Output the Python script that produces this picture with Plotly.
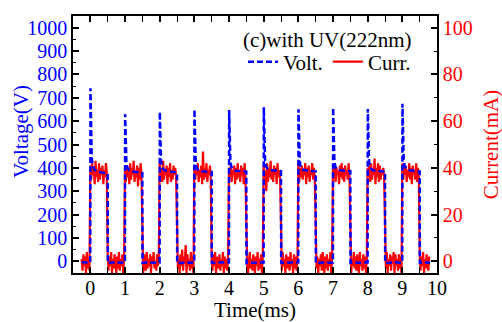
import numpy as np
import plotly.graph_objects as go

# ---- Current (mA), sampled every 0.025 ms starting at t = -0.25 ms ----
curr_t0 = -0.25
curr_dt = 0.025
curr_pre = [1, -4, 3, -2, 2, -5, 4, -3, 1, -4]

# discharge-on part of each pulse (t = n .. n+0.475)
curr_on = [
    [41, 35, 42, 37, 40, 33, 43, 36, 39, 34, 42, 35, 40, 37, 41, 33, 39, 36, 42, 38],
    [40, 34, 41, 36, 39, 33, 42, 35, 40, 37, 43, 34, 38, 36, 41, 32, 40, 35, 42, 37],
    [42, 36, 40, 34, 43, 35, 39, 37, 41, 33, 40, 36, 42, 34, 39, 35, 41, 37, 40, 36],
    [41, 35, 40, 37, 42, 34, 39, 36, 41, 33, 47, 35, 40, 36, 42, 34, 39, 37, 41, 35],
    [40, 36, 42, 34, 39, 37, 41, 33, 40, 35, 42, 36, 39, 34, 41, 37, 40, 33, 42, 36],
    [41, 35, 39, 30, 42, 34, 40, 36, 43, 35, 39, 34, 41, 37, 40, 33, 42, 36, 39, 35],
    [42, 34, 40, 36, 41, 35, 39, 37, 42, 33, 40, 36, 41, 34, 39, 37, 42, 35, 40, 36],
    [41, 35, 42, 34, 40, 37, 39, 33, 41, 36, 42, 35, 40, 34, 41, 37, 39, 35, 42, 36],
    [40, 36, 41, 34, 42, 35, 39, 37, 44, 33, 40, 36, 42, 34, 41, 35, 39, 37, 40, 36],
    [42, 35, 40, 37, 41, 34, 39, 36, 42, 35, 40, 33, 41, 37, 39, 35, 42, 34, 40, 36],
]

# discharge-off part of each pulse (t = n+0.5 .. n+0.975); last one ends at 9.775
curr_off = [
    [3, -4, 2, -2, 4, -5, 1, -3, 3, -1, -5, 2, -3, 4, -4, 1, -2, 3, -5, 2],
    [2, -5, 3, -1, -4, 4, -3, 1, -2, 3, -5, 2, -1, 4, -3, 0, -4, 3, -2, 1],
    [4, -3, 1, -5, 3, -2, 5, -4, 2, -1, 7, -5, 3, -2, 1, -4, 4, -3, 2, -5],
    [1, -4, 3, -2, 4, -5, 2, -1, -3, 3, -4, 1, -2, 4, -5, 2, -3, 1, -4, 3],
    [3, -2, -5, 2, 4, -3, 1, -4, 3, -1, -5, 2, -2, 4, -4, 1, -3, 3, -5, 2],
    [2, -4, 4, -2, 1, -5, 3, -3, 2, -1, -4, 4, -2, 1, -5, 3, -3, 2, -4, 1],
    [4, -3, 2, -5, 1, -2, 3, -4, 4, -1, -5, 2, -3, 3, -4, 1, -2, 4, -5, 2],
    [3, -5, 1, -2, 4, -3, 2, -4, 3, -1, -5, 4, -2, 1, -4, 3, -3, 2, -5, 1],
    [2, -3, 4, -5, 1, -2, 3, -4, 2, -1, 4, -5, 3, -2, 1, -4, 3, -3, 2, -5],
    [3, -4, 2, -2, 4, -5, 1, -3, 3, -1, -4, 2],
]

# ---- Voltage (V), sampled at fixed offsets inside each 1 ms period ----
volt_pre_t = [-0.25, -0.1, -0.002]
volt_pre = [-4, -6, -5]
on_offsets = [0.004, 0.04, 0.07, 0.12, 0.2, 0.3, 0.4, 0.5]
off_offsets = [0.505, 0.6, 0.7, 0.8, 0.9, 0.998]
volt_on = [
    [741, 445, 410, 392, 384, 380, 377, 375],
    [630, 425, 400, 390, 385, 382, 380, 378],
    [640, 430, 402, 392, 387, 384, 382, 380],
    [651, 427, 399, 390, 385, 385, 384, 383],
    [648, 430, 403, 392, 388, 386, 385, 384],
    [660, 432, 405, 395, 390, 388, 387, 386],
    [651, 428, 402, 393, 389, 387, 386, 385],
    [658, 430, 404, 394, 390, 388, 387, 386],
    [652, 428, 402, 393, 388, 386, 385, 384],
    [674, 433, 406, 395, 390, 388, 386, 385],
]
volt_off = [
    [-8, -5, -4, -6, -5, -5],
    [-7, -4, -6, -5, -4, -5],
    [-8, -6, -4, -5, -6, -5],
    [-7, -5, -5, -4, -6, -5],
    [-8, -4, -6, -5, -5, -5],
    [-7, -6, -4, -5, -4, -5],
    [-8, -5, -5, -6, -4, -5],
    [-7, -4, -6, -5, -5, -5],
    [-8, -6, -5, -4, -6, -5],
    [-7, -5, -4, -6],
]

# assemble the traces
current = list(curr_pre)
for on_seg, off_seg in zip(curr_on, curr_off):
    current += on_seg + off_seg
t_curr = curr_t0 + curr_dt * np.arange(len(current))

t_volt = list(volt_pre_t)
volt = list(volt_pre)
for n, (on_seg, off_seg) in enumerate(zip(volt_on, volt_off)):
    t_volt += [n + o for o in on_offsets[:len(on_seg)]]
    volt += on_seg
    t_volt += [n + o for o in off_offsets[:len(off_seg)]]
    volt += off_seg

FONT = "Liberation Serif, Times New Roman, Times, serif"
BLUE = "#0000ff"
RED = "#ff0000"

fig = go.Figure()
fig.add_trace(go.Scatter(
    x=t_curr, y=current, name="Curr.", mode="lines", yaxis="y",
    line=dict(color=RED, width=2.2), legendrank=2,
))
fig.add_trace(go.Scatter(
    x=t_volt, y=volt, name="Volt.", mode="lines", yaxis="y2",
    line=dict(color=BLUE, width=2.5, dash="6px,3px"), legendrank=1,
))

axis_common = dict(
    showline=True, linecolor="black", linewidth=1.5,
    showgrid=False, zeroline=False, automargin=False,
    ticks="inside", tickcolor="black", tickwidth=1.5, ticklen=6,
)

fig.update_layout(
    width=502, height=322,
    margin=dict(l=73, r=65, t=16, b=49, autoexpand=False),
    paper_bgcolor="white", plot_bgcolor="white",
    font=dict(family=FONT, size=20, color="black"),
    xaxis=dict(
        **axis_common,
        range=[-0.5, 10], tick0=0, dtick=1, mirror="allticks",
        minor=dict(dtick=0.5, ticks="inside", ticklen=3, tickcolor="black", tickwidth=1.2),
        tickfont=dict(family=FONT, size=20, color="black"),
        ticklabelstandoff=-4,
        title=dict(text="Time(ms)", font=dict(family=FONT, size=21, color="black"), standoff=0),
    ),
    yaxis=dict(
        **axis_common,
        side="right", range=[-5, 105], tick0=0, dtick=20,
        minor=dict(dtick=10, ticks="inside", ticklen=3, tickcolor="black", tickwidth=1.2),
        tickfont=dict(family=FONT, size=20, color=RED),
    ),
    yaxis2=dict(
        **axis_common,
        overlaying="y", side="left", range=[-50, 1050], tick0=0, dtick=100,
        minor=dict(dtick=50, ticks="inside", ticklen=3, tickcolor="black", tickwidth=1.2),
        tickfont=dict(family=FONT, size=20, color=BLUE),
    ),
    showlegend=True,
    legend=dict(
        orientation="h", x=0.467, y=0.821, xanchor="left", yanchor="middle",
        bgcolor="rgba(0,0,0,0)", borderwidth=0,
        font=dict(family=FONT, size=21, color="black"),
        itemwidth=30,
    ),
    annotations=[
        dict(text="Voltage(V)", xref="paper", yref="paper", x=-0.1429, y=0.5525,
             textangle=-90, showarrow=False, xanchor="center", yanchor="middle",
             font=dict(family=FONT, size=21, color=BLUE)),
        dict(text="Current(mA)", xref="paper", yref="paper", x=1.148, y=0.5,
             textangle=-90, showarrow=False, xanchor="center", yanchor="middle",
             font=dict(family=FONT, size=21, color=RED)),
        dict(text="(c)with UV(222nm)", xref="paper", yref="paper", x=0.698, y=0.9066,
             showarrow=False, xanchor="center", yanchor="middle",
             font=dict(family=FONT, size=21, color="black")),
    ],
)

fig.write_html("out.html")
